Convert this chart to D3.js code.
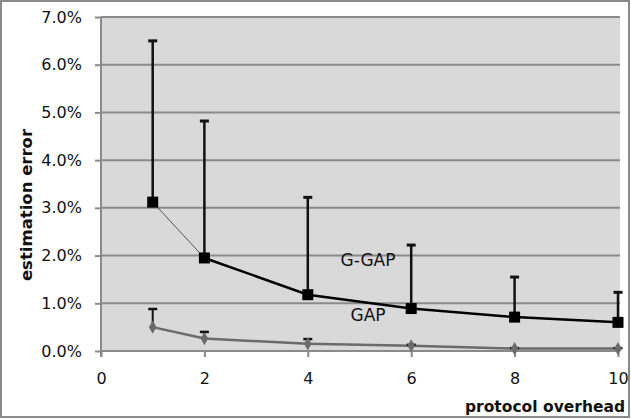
<!DOCTYPE html>
<html><head><meta charset="utf-8">
<script src="https://cdn.jsdelivr.net/npm/d3@7"></script>
<style>body{margin:0;background:#fff}svg{display:block}</style>
</head><body>
<svg id="c" width="631" height="419"></svg>
<script>
const overhead = [1, 2, 4, 6, 8, 10];
const ggapMean = [0.0312, 0.0195, 0.0118, 0.0089, 0.0071, 0.0060];
const ggapUpper = [0.0650, 0.0482, 0.0322, 0.0222, 0.0155, 0.0123];
const gapMean = [0.0050, 0.0026, 0.0015, 0.0011, 0.0005, 0.0005];
const gapUpper = [0.0088, 0.0040, 0.0025, 0.0013, 0.0006, 0.0006];
const xTicks = [0, 2, 4, 6, 8, 10];
const yTicks = [0, 0.01, 0.02, 0.03, 0.04, 0.05, 0.06, 0.07];
const seriesLabels = ["G-GAP", "GAP"];
const xTitle = "protocol overhead", yTitle = "estimation error";

const svg = d3.select("#c");
const font = "'DejaVu Sans', sans-serif";
const L = 101, R = 618, T = 17, B = 351;
const x = d3.scaleLinear().domain([0, 10]).range([L, R]);
const y = d3.scaleLinear().domain([0, 0.07]).range([B, T]);

svg.append("rect").attr("x", 1).attr("y", 1).attr("width", 628).attr("height", 416)
  .attr("fill", "#fff").attr("stroke", "#8a8a8a").attr("stroke-width", 2);
svg.append("rect").attr("x", L).attr("y", T).attr("width", 620 - L).attr("height", B - T).attr("fill", "#d9d9d9");

// y axis
const ya = svg.append("g").attr("transform", `translate(${L},0)`)
  .call(d3.axisLeft(y).tickValues(yTicks).tickFormat(d3.format(".1%")).tickSize(6).tickPadding(13));
ya.select(".domain").attr("stroke", "#8a8a8a").attr("stroke-width", 2).attr("d", `M0,${T}V${B + 6}`);
ya.selectAll(".tick line").attr("stroke", "#8a8a8a").attr("stroke-width", 2);
ya.selectAll(".tick text").attr("font-family", font).attr("font-size", 16).attr("fill", "#111");
// gridlines
svg.append("g").selectAll("line").data(yTicks).join("line")
  .attr("x1", L).attr("x2", 620).attr("y1", d => y(d)).attr("y2", d => y(d))
  .attr("stroke", "#8a8a8a").attr("stroke-width", 2);
// x axis
const xa = svg.append("g").attr("transform", `translate(0,${B})`)
  .call(d3.axisBottom(x).tickValues(xTicks).tickFormat(d3.format("d")).tickSize(6).tickPadding(16));
xa.select(".domain").remove();
xa.selectAll(".tick line").attr("stroke", "#8a8a8a").attr("stroke-width", 2);
xa.selectAll(".tick text").attr("font-family", font).attr("font-size", 16).attr("fill", "#111");

// GAP series
const gap = overhead.map((o, i) => ({x: o, y: gapMean[i], u: gapUpper[i]}));
const gg = overhead.map((o, i) => ({x: o, y: ggapMean[i], u: ggapUpper[i]}));
const line = d3.line().x(d => x(d.x)).y(d => y(d.y));

svg.append("path").datum(gap).attr("d", line).attr("fill", "none").attr("stroke", "#6b6b6b").attr("stroke-width", 2.5);
const eb = (data, w) => {
  const g = svg.append("g").attr("stroke", "#111").attr("stroke-width", w);
  g.selectAll(".v").data(data).join("line").attr("x1", d => x(d.x)).attr("x2", d => x(d.x))
    .attr("y1", d => y(d.y)).attr("y2", d => y(d.u));
  g.selectAll(".c").data(data).join("line").attr("x1", d => x(d.x) - 4.5).attr("x2", d => x(d.x) + 4.5)
    .attr("y1", d => y(d.u)).attr("y2", d => y(d.u)).attr("stroke-width", w + 0.5);
};
eb(gap, 2);
svg.append("g").selectAll("path").data(gap).join("path")
  .attr("d", d3.symbol(d3.symbolDiamond, 50))
  .attr("transform", d => `translate(${x(d.x)},${y(d.y)})`).attr("fill", "#6b6b6b");

// G-GAP series
svg.append("path").datum(gg.slice(0, 2)).attr("d", line).attr("fill", "none").attr("stroke", "#555").attr("stroke-width", 1);
svg.append("path").datum(gg.slice(1)).attr("d", line).attr("fill", "none").attr("stroke", "#000").attr("stroke-width", 2.5);
eb(gg, 2.5);
svg.append("g").selectAll("rect").data(gg).join("rect")
  .attr("x", d => x(d.x) - 5.5).attr("y", d => y(d.y) - 5.5).attr("width", 11).attr("height", 11).attr("fill", "#000");

// labels
svg.append("text").attr("x", 368).attr("y", 266).attr("text-anchor", "middle").attr("font-family", font)
  .attr("font-size", 17).attr("fill", "#111").text(seriesLabels[0]);
svg.append("text").attr("x", 368).attr("y", 321).attr("text-anchor", "middle").attr("font-family", font)
  .attr("font-size", 17).attr("fill", "#111").text(seriesLabels[1]);
svg.append("text").attr("x", 625).attr("y", 412).attr("text-anchor", "end").attr("font-family", font)
  .attr("font-size", 15.5).attr("font-weight", "bold").attr("fill", "#111").text(xTitle);
svg.append("text").attr("transform", "translate(32,205) rotate(-90)").attr("text-anchor", "middle")
  .attr("font-family", font).attr("font-size", 16.5).attr("font-weight", "bold").attr("fill", "#111").text(yTitle);
</script>
</body></html>
